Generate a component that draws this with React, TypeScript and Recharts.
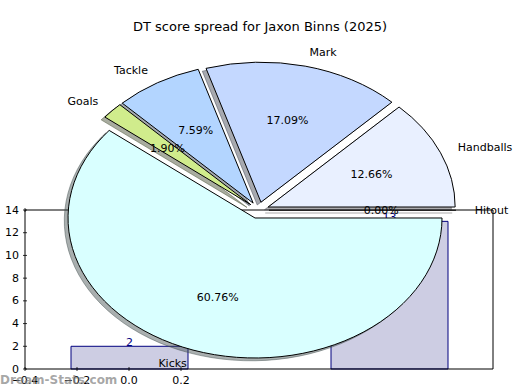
import React from 'react';
import { BarChart, Bar, XAxis, YAxis, LabelList, PieChart, Pie } from 'recharts';

const TITLE = 'DT score spread for Jaxon Binns (2025)';
const WATERMARK = 'Dream-Stats.com';

// Pie data (DT points by stat, counter-clockwise from 0°)
const pieNames = ['Hitout', 'Handballs', 'Mark', 'Tackle', 'Goals', 'Kicks'];
const pieValues = [0, 10, 13.5, 6, 1.5, 48];
const pieColors = ['#e0e0e0', '#e9f0ff', '#c4d8ff', '#b3d5ff', '#d0ec8c', '#d9ffff'];

// Bar data behind the pie
const barX = [0, 1];
const barValues = [2, 13];
const xTicks = [-0.4, -0.2, 0, 0.2];
const yTicks = [0, 2, 4, 6, 8, 10, 12, 14];

const pieData = pieNames.map((name, i) => ({ name, value: pieValues[i] }));
const barData = barX.map((x, i) => ({ x, v: barValues[i] }));

const FONT = 'DejaVu Sans, sans-serif';
const RX = 187;
const RY = 140;
const EXP_X = 0.056;
const EXP_Y = 0.059;
const SH = 0.02;

const toRad = (d: number) => (d * Math.PI) / 180;

function geom(p: any) {
  const cx = Number(p.cx);
  const cy = Number(p.cy);
  const rx = Number(p.outerRadius);
  const ry = (rx * RY) / RX;
  const mid = toRad(Number(p.midAngle));
  const ox = cx + EXP_X * rx * Math.cos(mid);
  const oy = cy - EXP_Y * ry * Math.sin(mid);
  return { ox, oy, rx, ry, mid };
}

function wedgePath(ox: number, oy: number, rx: number, ry: number, sa: number, ea: number) {
  const a1 = toRad(sa);
  const a2 = toRad(ea);
  const x1 = ox + rx * Math.cos(a1);
  const y1 = oy - ry * Math.sin(a1);
  if (Math.abs(ea - sa) < 1e-6) {
    return `M${ox},${oy} L${x1},${y1}`;
  }
  const x2 = ox + rx * Math.cos(a2);
  const y2 = oy - ry * Math.sin(a2);
  const large = ea - sa > 180 ? 1 : 0;
  return `M${ox},${oy} L${x1},${y1} A${rx},${ry} 0 ${large} 0 ${x2},${y2} Z`;
}

function hexToRgb(h: string) {
  const n = parseInt(h.slice(1), 16);
  return [(n >> 16) & 255, (n >> 8) & 255, n & 255];
}

const renderShadow = (p: any) => {
  const { ox, oy, rx, ry } = geom(p);
  const c = hexToRgb(pieColors[p.index]).map((v) => Math.round(v * 0.3));
  const col = `rgb(${c[0]},${c[1]},${c[2]})`;
  const d = wedgePath(ox - SH * rx, oy + SH * ry, rx, ry, Number(p.startAngle), Number(p.endAngle));
  return (
    <path key={`s${p.index}`} d={d} fill={col} fillOpacity={0.45} stroke={col} strokeOpacity={0.45} strokeWidth={1} />
  );
};

const renderWedge = (p: any) => {
  const { ox, oy, rx, ry } = geom(p);
  const d = wedgePath(ox, oy, rx, ry, Number(p.startAngle), Number(p.endAngle));
  return <path key={`w${p.index}`} d={d} fill={pieColors[p.index]} stroke="#000" strokeWidth={1} strokeLinejoin="round" />;
};

const renderText = (p: any) => {
  const { ox, oy, rx, ry, mid } = geom(p);
  const lx = ox + 1.1 * rx * Math.cos(mid);
  const ly = oy - 1.1 * ry * Math.sin(mid);
  const px = ox + 0.6 * rx * Math.cos(mid);
  const py = oy - 0.6 * ry * Math.sin(mid);
  const pct = (Number(p.percent) * 100).toFixed(2) + '%';
  const anchor = Math.cos(mid) + EXP_X * Math.cos(mid) > 0 ? 'start' : 'end';
  return (
    <g key={`t${p.index}`}>
      <text x={lx} y={ly} textAnchor={anchor} dominantBaseline="central" fontFamily={FONT} fontSize={11} fill="#000">
        {pieNames[p.index]}
      </text>
      <text x={px} y={py} textAnchor="middle" dominantBaseline="central" fontFamily={FONT} fontSize={11} fill="#000">
        {pct}
      </text>
    </g>
  );
};

const fmt = (v: number) => (v < 0 ? '\u2212' : '') + Math.abs(v).toFixed(1);

const XTickBottom = (p: any) => (
  <g>
    <line x1={p.x} x2={p.x} y1={p.y} y2={p.y - 4} stroke="#000" strokeWidth={0.8} />
    <text x={p.x} y={p.y + 9} textAnchor="middle" dominantBaseline="central" fontFamily={FONT} fontSize={11} fill="#000">
      {fmt(Number(p.payload.value))}
    </text>
  </g>
);
const XTickTop = (p: any) => (
  <line x1={p.x} x2={p.x} y1={p.y} y2={p.y + 4} stroke="#000" strokeWidth={0.8} />
);
const YTickLeft = (p: any) => (
  <g>
    <line x1={p.x} x2={p.x + 4} y1={p.y} y2={p.y} stroke="#000" strokeWidth={0.8} />
    <text x={p.x - 4} y={p.y} textAnchor="end" dominantBaseline="central" fontFamily={FONT} fontSize={11} fill="#000">
      {String(p.payload.value)}
    </text>
  </g>
);
const YTickRight = (p: any) => (
  <line x1={p.x} x2={p.x - 4} y1={p.y} y2={p.y} stroke="#000" strokeWidth={0.8} />
);

export default function App() {
  return (
    <div style={{ position: 'fixed', left: 0, top: 0, width: 520, height: 390, background: '#fff', overflow: 'hidden' }}>
      <div style={{ position: 'absolute', left: 0, top: 0 }}>
        <BarChart width={520} height={390} data={barData} margin={{ top: 209, right: 26, bottom: 0, left: 0 }}>
          <XAxis
            xAxisId="b"
            type="number"
            dataKey="x"
            domain={[-0.4, 1.4]}
            ticks={xTicks}
            allowDataOverflow
            height={21}
            tickSize={0}
            tickLine={false}
            axisLine={{ stroke: '#000', strokeWidth: 1 }}
            tick={<XTickBottom />}
            interval={0}
          />
          <XAxis
            xAxisId="t"
            orientation="top"
            type="number"
            dataKey="x"
            domain={[-0.4, 1.4]}
            ticks={xTicks}
            allowDataOverflow
            height={1}
            tickSize={0}
            tickLine={false}
            axisLine={{ stroke: '#000', strokeWidth: 1 }}
            tick={<XTickTop />}
            interval={0}
          />
          <YAxis
            yAxisId="l"
            type="number"
            domain={[0, 14]}
            ticks={yTicks}
            width={25}
            tickSize={0}
            tickLine={false}
            axisLine={{ stroke: '#000', strokeWidth: 1 }}
            tick={<YTickLeft />}
            interval={0}
          />
          <YAxis
            yAxisId="r"
            orientation="right"
            type="number"
            domain={[0, 14]}
            ticks={yTicks}
            width={1}
            tickSize={0}
            tickLine={false}
            axisLine={{ stroke: '#000', strokeWidth: 1 }}
            tick={<YTickRight />}
            interval={0}
          />
          <Bar xAxisId="b" yAxisId="l" dataKey="v" barSize={117} fill="#cdcde3" stroke="#00007f" strokeWidth={1} isAnimationActive={false}>
            <LabelList dataKey="v" position="top" offset={0} fill="#00007f" fontFamily={FONT} fontSize={11} />
          </Bar>
        </BarChart>
      </div>
      <div style={{ position: 'absolute', left: 0, top: 0 }}>
        <PieChart width={520} height={390} margin={{ top: 0, right: 0, bottom: 0, left: 0 }}>
          <Pie
            data={pieData}
            dataKey="value"
            nameKey="name"
            cx={258.5}
            cy={210.2}
            outerRadius={RX}
            startAngle={0}
            endAngle={360}
            fill="none"
            stroke="none"
            label={renderShadow}
            labelLine={false}
            isAnimationActive={false}
          />
          <Pie
            data={pieData}
            dataKey="value"
            nameKey="name"
            cx={258.5}
            cy={210.2}
            outerRadius={RX}
            startAngle={0}
            endAngle={360}
            fill="none"
            stroke="none"
            label={renderWedge}
            labelLine={false}
            isAnimationActive={false}
          />
          <Pie
            data={pieData}
            dataKey="value"
            nameKey="name"
            cx={258.5}
            cy={210.2}
            outerRadius={RX}
            startAngle={0}
            endAngle={360}
            fill="none"
            stroke="none"
            label={renderText}
            labelLine={false}
            isAnimationActive={false}
          />
        </PieChart>
      </div>
      <svg width={520} height={390} style={{ position: 'absolute', left: 0, top: 0 }}>
        <text x={260} y={26} textAnchor="middle" dominantBaseline="central" fontFamily={FONT} fontSize={13} fill="#000">
          {TITLE}
        </text>
        <text x={0} y={384} fontFamily={FONT} fontSize={12} fontWeight="bold" fill="#808080" fillOpacity={0.7}>
          {WATERMARK}
        </text>
      </svg>
    </div>
  );
}
